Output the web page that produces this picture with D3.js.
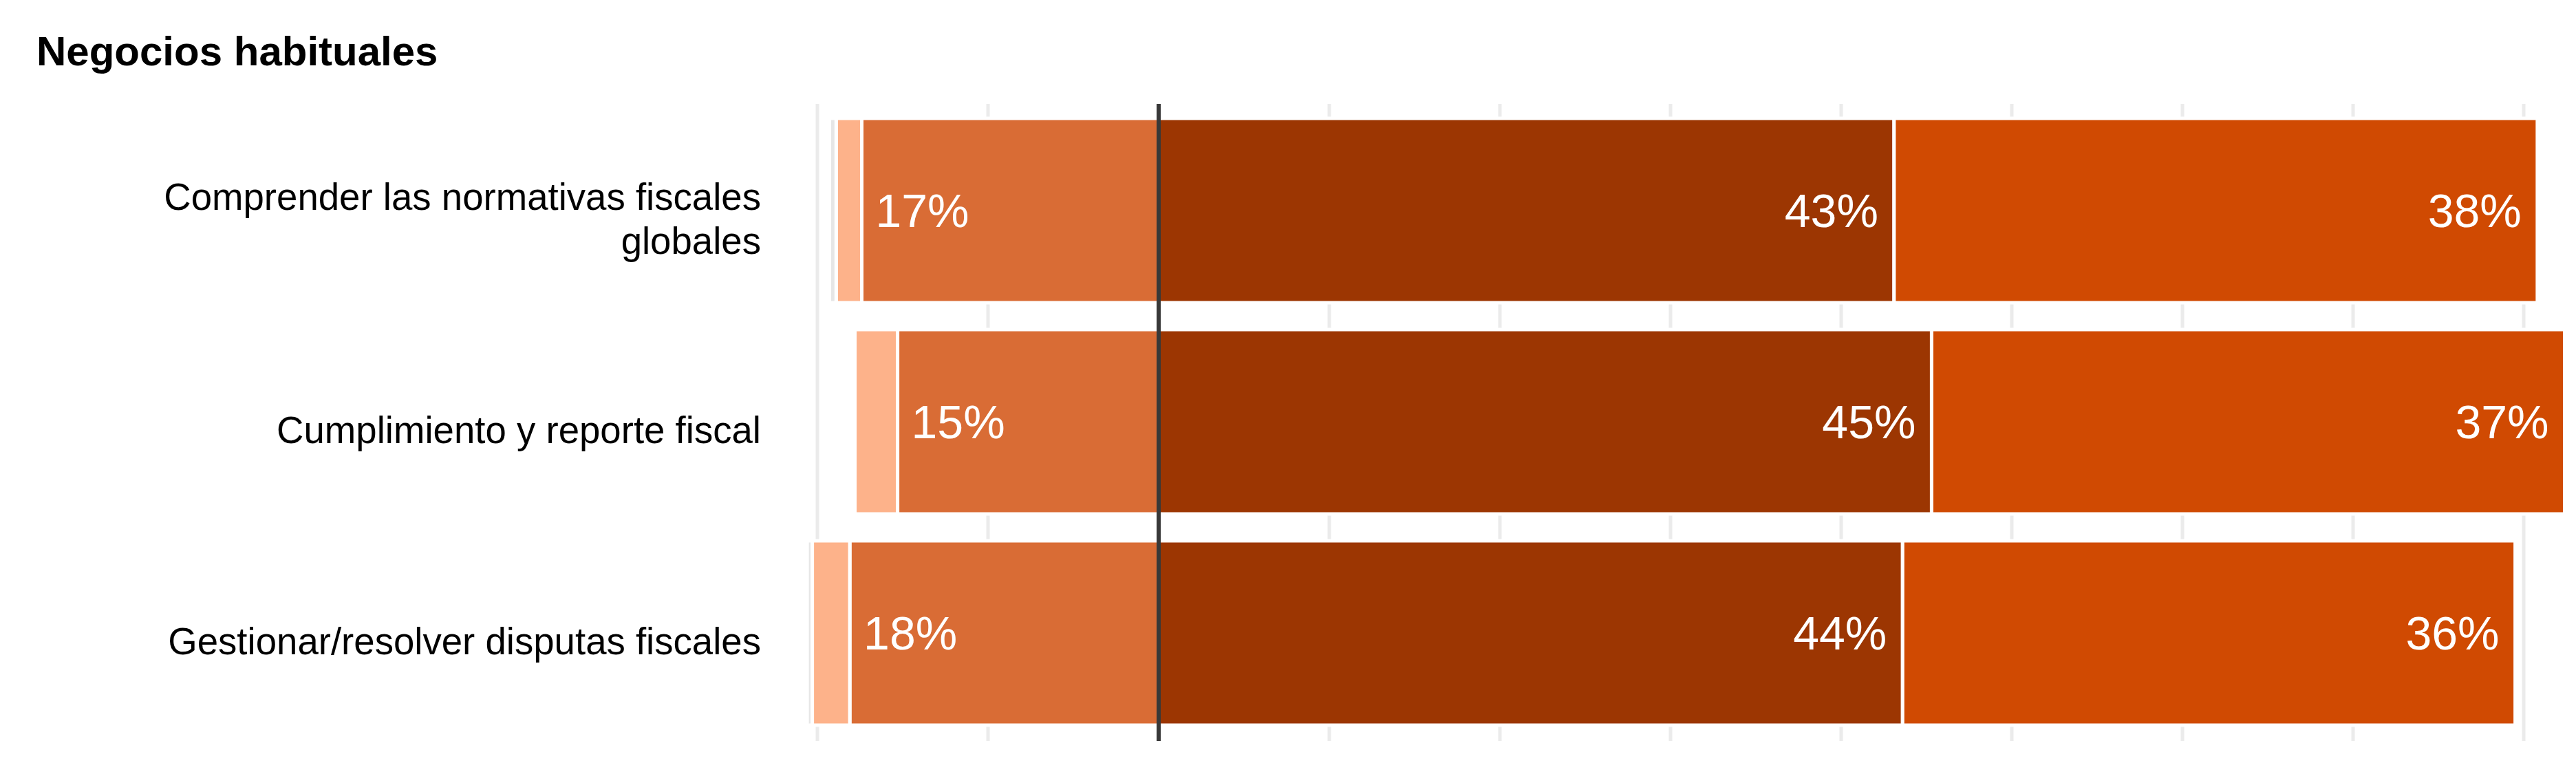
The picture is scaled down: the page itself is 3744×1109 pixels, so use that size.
<!DOCTYPE html>
<html>
<head>
<meta charset="utf-8">
<script src="https://cdn.jsdelivr.net/npm/d3@7"></script>
<style>
	html, body { margin: 0; padding: 0; background: #fff; }
	svg { display: block; font-family: "Liberation Sans", Arial, sans-serif; }
</style>
</head>
<body>
<div id="chart"></div>
<script>
// categories, one per bar (labels split on lines)
var categories = [
	["Comprender las normativas fiscales", "globales"],
	["Cumplimiento y reporte fiscal"],
	["Gestionar/resolver disputas fiscales"]
];
// left side, from the centre line outwards
var poco = [17.4, 15.3, 18.1];
var nada = [1.5, 2.5, 2.2];
var noSabe = [0.4, 0, 0.3];
// right side, from the centre line outwards
var importante = [43.1, 45.3, 43.6];
var muyImportante = [37.7, 37.1, 35.9];
var xTicks = [-20, -10, 0, 10, 20, 30, 40, 50, 60, 70, 80];
var title = "Negocios habituales";

(function() {
	'use strict';

	var width = 3744,
		height = 1109,
		gridTop = 151,
		gridBottom = 1077;

	var svg = d3.select("#chart").append("svg")
		.attr("width", width)
		.attr("height", height);

	var x = d3.scaleLinear()
		.domain([-20, 80])
		.range([1188, 3668]);

	var y = d3.scaleBand()
		.domain(d3.range(categories.length))
		.range([133, 1093])
		.padding(0.127);

	svg.append("text")
		.attr("x", 53)
		.attr("y", 95)
		.attr("font-size", 60)
		.attr("font-weight", "bold")
		.attr("fill", "#000")
		.text(title);

	// gridlines
	svg.append("g")
		.selectAll("line")
		.data(xTicks)
		.enter().append("line")
		.attr("x1", function(d) { return x(d); })
		.attr("x2", function(d) { return x(d); })
		.attr("y1", gridTop)
		.attr("y2", gridBottom)
		.attr("stroke", "#ebebeb")
		.attr("stroke-width", 5);

	// build segments
	var series = [
		{ values: poco, side: -1, color: "#d96c35", label: true },
		{ values: nada, side: -1, color: "#fdb28a", label: false },
		{ values: noSabe, side: -1, color: "#e6e6e6", label: false },
		{ values: importante, side: 1, color: "#9c3602", label: true },
		{ values: muyImportante, side: 1, color: "#d04a02", label: true }
	];

	var segs = [];
	categories.forEach(function(c, i) {
		var neg = 0, pos = 0;
		series.forEach(function(s) {
			var v = s.values[i], x0, x1;
			if (!v) { return; }
			if (s.side < 0) {
				x0 = -(neg + v); x1 = -neg; neg += v;
			} else {
				x0 = pos; x1 = pos + v; pos += v;
			}
			segs.push({ row: i, x0: x0, x1: x1, v: v, s: s });
		});
	});

	var bars = svg.append("g");

	bars.selectAll("rect")
		.data(segs)
		.enter().append("rect")
		.attr("x", function(d) { return x(d.x0); })
		.attr("width", function(d) { return x(d.x1) - x(d.x0); })
		.attr("y", function(d) { return y(d.row); })
		.attr("height", y.bandwidth())
		.attr("fill", function(d) { return d.s.color; })
		.attr("stroke", "#fff")
		.attr("stroke-width", 5);

	bars.selectAll("text")
		.data(segs.filter(function(d) { return d.s.label; }))
		.enter().append("text")
		.attr("x", function(d) { return d.s.side < 0 ? x(d.x0) + 20 : x(d.x1) - 23; })
		.attr("y", function(d) { return y(d.row) + y.bandwidth() / 2 + 24; })
		.attr("text-anchor", function(d) { return d.s.side < 0 ? "start" : "end"; })
		.attr("font-size", 68)
		.attr("fill", "#fff")
		.text(function(d) { return Math.round(d.v) + "%"; });

	// centre line
	svg.append("line")
		.attr("x1", x(0))
		.attr("x2", x(0))
		.attr("y1", gridTop)
		.attr("y2", gridBottom)
		.attr("stroke", "#383838")
		.attr("stroke-width", 6);

	// category labels
	var lineH = 64;
	svg.append("g")
		.selectAll("text")
		.data(categories)
		.enter().append("text")
		.attr("text-anchor", "end")
		.attr("font-size", 54.6)
		.attr("fill", "#000")
		.each(function(lines, i) {
			var cy = y(i) + y.bandwidth() / 2 + 31 - (lines.length - 1) * lineH / 2;
			d3.select(this).selectAll("tspan")
				.data(lines)
				.enter().append("tspan")
				.attr("x", 1106)
				.attr("y", function(d, j) { return cy + j * lineH; })
				.text(function(d) { return d; });
		});
})();
</script>
</body>
</html>
